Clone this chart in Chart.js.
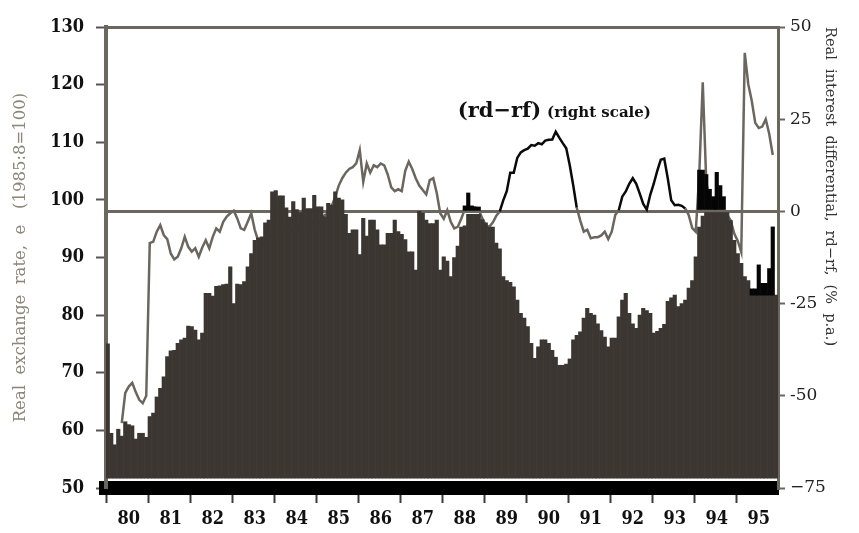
<!DOCTYPE html>
<html><head><meta charset="utf-8">
<script src="https://cdn.jsdelivr.net/npm/chart.js@4.4.0/dist/chart.umd.min.js"></script>
<style>html,body{margin:0;padding:0;background:#fff;}#wrap{width:859px;height:533px;position:relative;}</style>
</head><body><div id="wrap"><canvas id="c"></canvas></div>
<script>
// ---- categories ----
const years = ['80','81','82','83','84','85','86','87','88','89','90','91','92','93','94','95'];

// ---- real exchange rate e (left scale), monthly ----
const e1980 = [75, 59.5, 57.5, 60.2, 59, 61.5, 61, 60.8, 58.5, 59.5, 59.5, 58.8];
const e1981 = [62.4, 63, 65.8, 67.3, 69.3, 72.8, 73.8, 73.9, 75.1, 75.7, 76, 78.1];
const e1982 = [78, 77.4, 75.7, 76.9, 83.8, 83.8, 83.3, 85, 85.1, 85.3, 85.4, 88.4];
const e1983 = [82, 85.4, 85.3, 85.8, 88.4, 90.7, 93, 93.4, 93.6, 96, 96.5, 101.4];
const e1984 = [101.6, 100.7, 100.7, 98.6, 97, 99.7, 98.3, 97.8, 100.3, 98.5, 98.5, 100.8];
const e1985 = [98.8, 98.8, 97.1, 99.4, 99.1, 101.4, 100.3, 100, 97.5, 94.2, 94.8, 94.8];
const e1986 = [90.5, 96.8, 93.7, 96.5, 96.5, 94.8, 92.2, 92.2, 94.2, 94.2, 96.5, 94.5];
const e1987 = [94, 93.1, 91, 91, 87.8, 98, 97.7, 96.5, 95.9, 95.9, 96.5, 87.8];
const e1988 = [90.1, 89.4, 86.7, 90, 92, 95.3, 95.5, 97.5, 97.5, 97.5, 97.5, 96.6];
const e1989 = [96, 95.3, 95.3, 92.5, 91.5, 86.7, 86, 85.7, 84.9, 82.6, 80.3, 79.5];
const e1990 = [78, 75.1, 72.5, 74.5, 75.7, 75.7, 75.1, 73.9, 72.7, 71.3, 71.3, 71.5];
const e1991 = [72.4, 75.7, 76.5, 77.1, 79.5, 81.2, 80.3, 80, 78.5, 77.3, 76.2, 74.5];
const e1992 = [76, 76, 79.7, 82.6, 83.8, 80.3, 78.5, 77.7, 80, 81.2, 80.8, 80.3];
const e1993 = [76.9, 77.2, 77.7, 78.4, 82.4, 83, 83.5, 81.5, 82, 82.6, 84.7, 86];
const e1994 = [90.1, 95.3, 97.2, 97.8, 97.8, 97.8, 97.8, 97.8, 97.8, 97.8, 96.4, 93];
const e1995 = [90.7, 89, 86.7, 86, 83.5, 83.5, 83.5, 83.5, 83.5, 83.5, 83.5, 83.5];

// ---- real interest differential rd-rf (right scale), monthly ----
const r1980 = [null, null, null, null, -57.4, -49.2, -47.5, -46.5, -49, -51.1, -52, -50];
const r1981 = [-8.6, -8.2, -5.5, -3.7, -6.4, -7.5, -11.4, -13, -12.3, -10, -6.9, -9.6];
const r1982 = [-10.9, -10, -12.3, -9.8, -7.8, -10, -6.9, -4.6, -5.5, -2.8, -1.4, -0.5];
const r1983 = [0.2, -1.9, -4.6, -5, -2.8, -0.5, -5, -8, -9.5, -8.5, -7.5, -6];
const r1984 = [-5, -6, -4, -5, -6, -4, -3, -5, -4, -3, -2, -4];
const r1985 = [-3, -2, -1, -0.5, 1.5, 4, 7, 9, 10.5, 11.5, 12, 13];
const r1986 = [16.6, 8, 13, 10.5, 12.5, 12, 13, 12.5, 10, 6.5, 5.5, 6];
const r1987 = [5.5, 11, 13.5, 11.5, 9, 7, 5.8, 4.6, 8.5, 9, 5, -0.5];
const r1988 = [-2, 0.3, -2.8, -4.6, -4.2, -2, 0.5, 1, 1, 1, 0.5, -1.9];
const r1989 = [-3.7, -4.2, -3, -1.2, 0, 3, 5.5, 10.5, 10.5, 14.5, 16, 16.6];
const r1990 = [17, 18, 17.8, 18.5, 18.2, 19.2, 19.4, 19.5, 21.6, 20, 18.5, 17.1];
const r1991 = [12.5, 7, 1, -2.5, -5.5, -5, -7.3, -7, -7, -6.5, -5.5, -7.5];
const r1992 = [-5.5, -1, 0.3, 4, 5.4, 7.5, 9, 7.5, 4.8, 2, 0.5, 4.5];
const r1993 = [7.5, 11, 14, 14.3, 9, 3, 1.7, 1.8, 1.5, 0.8, -1, -4.5];
const r1994 = [-5.5, 10, 35, 8, 3, 1, 0, -2, -3, -1, -2.5, -6];
const r1995 = [-8, -11, 43, 34.5, 30, 24, 22.6, 23, 25, 21, 15.3, null];

// ---- black highlighted rd-rf bars (right scale) ----
const blackMonth = ['1988:7','1988:8','1988:9','1988:10','1988:11',
  '1994:2','1994:3','1994:4','1994:5','1994:6','1994:7','1994:8','1994:9',
  '1995:5','1995:6','1995:7','1995:8','1995:9','1995:10','1995:11'];
const blackLow  = [0.3,0.3,0.3,0.3,0.3, 0.5,0.5,0.5,0.5,0.5,0.5,0.5,0.5,
  -22.7,-22.7,-22.7,-22.7,-22.7,-22.7,-22.7];
const blackHigh = [1.5,5,1.5,1.2,1.2, 11.2,11.2,10,6,4,10.6,7,4,
  -21,-21,-14.5,-19.5,-19.5,-15.5,-4.2];

// annotation texts
const NOTE_MAIN = '(rd\u2212rf)';
const NOTE_SUB = '(right scale)';
const NOTE_MONTH = '1988:5';
const NOTE_LEVEL = 25.5;

// ---- build tables ----
const months = [];
years.forEach(y => { for (let m = 1; m <= 12; m++) months.push('19' + y + ':' + m); });
const eData = [].concat(e1980,e1981,e1982,e1983,e1984,e1985,e1986,e1987,e1988,e1989,e1990,e1991,e1992,e1993,e1994,e1995);
const rData = [].concat(r1980,r1981,r1982,r1983,r1984,r1985,r1986,r1987,r1988,r1989,r1990,r1991,r1992,r1993,r1994,r1995);
const blackData = months.map(() => null);
blackMonth.forEach((mo, k) => { blackData[months.indexOf(mo)] = [blackLow[k], blackHigh[k]]; });
const BLACK_FROM = months.indexOf('1988:1');
const BLACK_TO = months.indexOf('1994:1');

const GRAY = '#6b665e';
const tickFont = {family: "'DejaVu Serif Condensed','DejaVu Serif',serif", weight: 'bold', size: 18};

const notes = {
  id: 'notes',
  afterDatasetsDraw(chart) {
    const {ctx, scales} = chart;
    const x0 = scales.x.getPixelForValue(months.indexOf(NOTE_MONTH));
    const y0 = scales.y2.getPixelForValue(NOTE_LEVEL);
    ctx.save();
    ctx.fillStyle = '#111';
    ctx.textBaseline = 'alphabetic';
    ctx.textAlign = 'left';
    ctx.font = "bold 21px 'DejaVu Serif', serif";
    ctx.fillText(NOTE_MAIN, x0, y0);
    const w = ctx.measureText(NOTE_MAIN).width;
    ctx.font = "bold 15px 'DejaVu Serif', serif";
    ctx.fillText(NOTE_SUB, x0 + w + 6, y0);
    ctx.restore();
  }
};

new Chart(document.getElementById('c'), {
  type: 'bar',
  data: {
    labels: months,
    datasets: [
      {type: 'bar', label: 'black', data: blackData, yAxisID: 'y2', backgroundColor: '#050505',
       grouped: false, barPercentage: 1, categoryPercentage: 1, borderWidth: 0, order: 0},
      {type: 'bar', label: 'e', data: eData, yAxisID: 'y', base: 51.7, backgroundColor: '#3b3631',
       grouped: false, barPercentage: 1, categoryPercentage: 1, borderWidth: 0, order: 1},
      {type: 'line', label: 'rd-rf', data: rData, yAxisID: 'y2', borderColor: GRAY, borderWidth: 2.5,
       pointRadius: 0, tension: 0, spanGaps: false, order: 2,
       segment: {borderColor: c => (c.p0DataIndex >= BLACK_FROM && c.p0DataIndex < BLACK_TO &&
                 c.p0.parsed.y >= 0 && c.p1.parsed.y >= 0) ? '#0a0a0a' : GRAY}}
    ]
  },
  options: {
    responsive: true, maintainAspectRatio: false, animation: false,
    layout: {padding: {top: 27, left: 0, right: 0, bottom: 0}},
    plugins: {legend: {display: false}, tooltip: {enabled: false}},
    scales: {
      x: {
        type: 'category', offset: true,
        grid: {offset: true, drawOnChartArea: false, drawTicks: true, tickLength: 15, tickWidth: 2,
               color: 'rgba(0,0,0,0)',
               tickColor: c => (c.index % 12 === 0 ? '#3a3a3a' : 'rgba(0,0,0,0)')},
        border: {display: true, color: '#000', width: 14},
        ticks: {autoSkip: false, maxRotation: 0, minRotation: 0, padding: 6, color: '#111', font: tickFont,
                callback: (v, i) => (i % 12 === 6 ? years[Math.floor(i / 12)] : '')},
        afterFit: s => { s.height = 45; }
      },
      y: {
        position: 'left', min: 50, max: 130,
        ticks: {stepSize: 10, padding: 12, color: '#111', font: tickFont},
        grid: {drawOnChartArea: false, tickLength: 10, tickWidth: 2, tickColor: '#555'},
        border: {display: true, color: GRAY, width: 4},
        title: {display: true, text: 'Real  exchange  rate,  e   (1985:8=100)', color: '#8c8578',
                font: {family: "'DejaVu Serif', serif", size: 16.5}, padding: {top: 11, bottom: 0}},
        afterFit: s => { s.width = 106; }
      },
      y2: {
        position: 'right', min: -75, max: 50,
        ticks: {stepSize: 25, padding: 5, color: '#222', font: {family: "'DejaVu Serif', serif", size: 17},
                callback: v => (v === -75 ? '\u221275' : String(v))},
        grid: {drawOnChartArea: true, lineWidth: 3, tickLength: 7, tickWidth: 2, tickColor: GRAY,
               color: c => (c.tick && (c.tick.value === 0 || c.tick.value === 50)) ? GRAY : 'rgba(0,0,0,0)'},
        border: {display: true, color: GRAY, width: 3},
        title: {display: true, align: 'end', text: 'Real  interest  differential,  rd\u2212rf,  (%  p.a.)',
                color: '#333', font: {family: "'DejaVu Serif', serif", size: 14.5}, padding: {top: 21, bottom: 0}},
        afterFit: s => { s.width = 81; }
      }
    }
  },
  plugins: [notes]
});
</script>
</body></html>
